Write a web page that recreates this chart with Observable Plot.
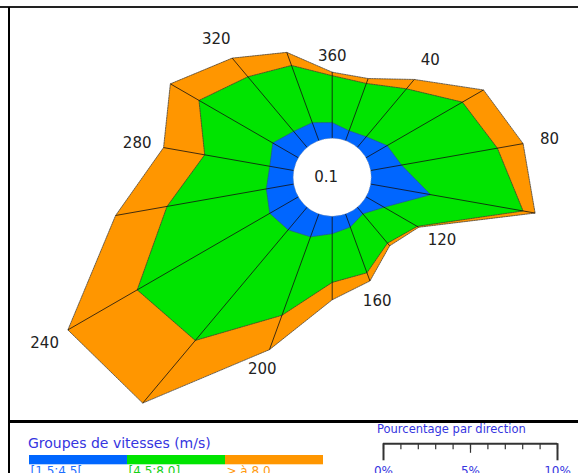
<!DOCTYPE html>
<html><head><meta charset="utf-8">
<script src="https://cdn.jsdelivr.net/npm/d3@7"></script>
<script src="https://cdn.jsdelivr.net/npm/@observablehq/plot@0.6"></script>
<style>
html,body{margin:0;padding:0;background:#fff;overflow:hidden;}
#wrap{position:relative;width:578px;height:473px;overflow:hidden;font-family:"DejaVu Sans",sans-serif;background:#fff;}
.abs{position:absolute;}
.ttl{color:#3535e0;white-space:nowrap;line-height:1;}
</style></head><body>
<div id="wrap">
  <div id="rose" class="abs" style="left:0;top:0"></div>
  <div class="abs" style="left:0;top:6px;width:578px;height:2px;background:#222"></div>
  <div class="abs" style="left:8px;top:7px;width:2px;height:466px;background:#000"></div>
  <div class="abs" style="left:8px;top:420px;width:570px;height:2.5px;background:#000"></div>
  <div class="abs ttl" style="left:28px;top:436px;font-size:14px">Groupes de vitesses (m/s)</div>
  <div id="colorbar" class="abs" style="left:28px;top:455px"></div>
  <div class="abs ttl" style="left:377px;top:424px;font-size:11.5px">Pourcentage par direction</div>
  <div id="scale" class="abs" style="left:0;top:430px"></div>
</div>
<script>
// ---- data (percent per direction and speed class) ----
const directions = [0, 20, 40, 60, 80, 100, 120, 140, 160, 180, 200, 220, 240, 260, 280, 300, 320, 340];
const blueSeries   = [0.9, 0.6, 0.8, 1.4, 1.8, 3.5, 1.2, 0.5, 0.8, 1.0, 1.4, 1.7, 1.9, 1.6, 1.4, 1.7, 1.2, 1.1];
const greenSeries  = [2.7, 2.9, 3.6, 5.0, 5.6, 5.4, 2.2, 2.2, 2.8, 2.8, 4.8, 8.3, 8.8, 5.8, 3.8, 4.9, 4.1, 3.5];
const orangeSeries = [0.2, 0.3, 0.7, 1.4, 1.5, 0.7, 0.1, 0.2, 0.5, 1.0, 2.1, 4.7, 4.6, 3.0, 2.4, 1.9, 1.4, 0.8];
const calm = 0.1;
const labelDirections = [0, 40, 80, 120, 160, 200, 240, 280, 320];
const classes = ["[1.5;4.5[", "[4.5;8.0]", "> à 8.0"];
const classColors = ["#0066ff", "#00e400", "#ff9600"];
const labelColors = ["#1f6fff", "#16d016", "#ff9a10"];
const scaleTicks = [0, 5, 10];

// ---- layout ----
const W = 578, H = 420, CX = 331.7, CY = 176.8, PX = 17.4, HOLE = 39;
const hole = HOLE / PX;

const rows = directions.map((d, i) => {
  const a = d * Math.PI / 180, s = Math.sin(a), c = Math.cos(a);
  const rb = hole + blueSeries[i], rg = rb + greenSeries[i], ro = rg + orangeSeries[i];
  return {dir: d, xh: hole*s, yh: hole*c, xb: rb*s, yb: rb*c, xg: rg*s, yg: rg*c, xo: ro*s, yo: ro*c, ro};
});
const labelRows = labelDirections.map(d => {
  const r = rows.find(o => o.dir === d);
  const a = d * Math.PI / 180, s = Math.sin(a), c = Math.cos(a);
  const k = (10 + 16*Math.abs(s) + 6*Math.abs(c)) / PX;
  return {x: (r.ro + k)*s, y: (r.ro + k)*c, text: d === 0 ? "360" : String(d)};
});

const edge = {stroke: "#333", strokeWidth: 0.7, strokeDasharray: "1.5,1", curve: "linear-closed"};
const rose = Plot.plot({
  width: W, height: H, margin: 0,
  style: {fontFamily: "DejaVu Sans", background: "transparent"},
  x: {domain: [-CX/PX, (W-CX)/PX], axis: null},
  y: {domain: [-(H-CY)/PX, CY/PX], axis: null},
  marks: [
    Plot.line(rows, {x: "xo", y: "yo", fill: classColors[2], ...edge}),
    Plot.line(rows, {x: "xg", y: "yg", fill: classColors[1], ...edge}),
    Plot.line(rows, {x: "xb", y: "yb", fill: classColors[0], ...edge, stroke: "#2a4a9a"}),
    Plot.link(rows, {x1: "xh", y1: "yh", x2: "xo", y2: "yo", stroke: "#111", strokeWidth: 0.8}),
    Plot.dot([calm], {x: () => 0, y: () => 0, r: HOLE, fill: "white", stroke: "#999", strokeWidth: 0.7, strokeDasharray: "1,1"}),
    Plot.text([calm], {x: () => 0, y: () => 0, text: d => String(d), dx: -6, fontSize: 15, fill: "#222"}),
    Plot.text(labelRows, {x: "x", y: "y", text: "text", fontSize: 15, fill: "#222"})
  ]
});
document.getElementById("rose").appendChild(rose);

const bar = Plot.plot({
  width: 295, height: 30, margin: 0, marginBottom: 20.7,
  style: {fontFamily: "DejaVu Sans", background: "transparent", overflow: "visible"},
  x: {type: "band", domain: classes, padding: 0, axis: null},
  color: {domain: classes, range: classColors},
  marks: [
    Plot.cell(classes, {x: d => d, fill: d => d}),
    Plot.text(classes, {x: d => d, text: d => d, frameAnchor: "bottom", lineAnchor: "top", textAnchor: "start",
      dx: -48, dy: 2, fontSize: 12, fill: (d, i) => labelColors[i]})
  ]
});
document.getElementById("colorbar").appendChild(bar);

const scale = Plot.plot({
  width: 578, height: 43, marginLeft: 383, marginRight: 21, marginTop: 0, marginBottom: 29.7,
  style: {fontFamily: "DejaVu Sans", background: "transparent", overflow: "visible"},
  x: {domain: [0, 10], axis: null},
  y: {domain: [0, 1], axis: null},
  marks: [
    Plot.ruleY([0], {stroke: "#333", strokeWidth: 2}),
    Plot.axisX(d3.range(0, 11), {anchor: "bottom", tickSize: 6, tickFormat: () => "", stroke: "#333", strokeWidth: 1.2}),
    Plot.axisX([5], {anchor: "bottom", tickSize: 9.5, tickFormat: () => "", stroke: "#333", strokeWidth: 1.2}),
    Plot.axisX([0, 10], {anchor: "bottom", tickSize: 17, tickFormat: () => "", stroke: "#333", strokeWidth: 2}),
    Plot.text(scaleTicks, {x: d => d, text: d => d + "%", frameAnchor: "bottom", lineAnchor: "top", dy: 23, fontSize: 12, fill: "#3535e0"})
  ]
});
document.getElementById("scale").appendChild(scale);
</script>
</body></html>
